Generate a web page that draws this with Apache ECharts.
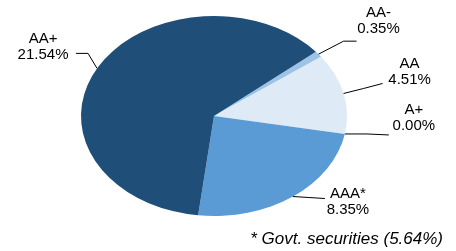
<!DOCTYPE html>
<html>
<head>
<meta charset="utf-8">
<script src="https://cdn.jsdelivr.net/npm/echarts@6/dist/echarts.min.js"></script>
<style>
  html, body { margin: 0; padding: 0; background: #fff; }
  #main { width: 456px; height: 251px; }
</style>
</head>
<body>
<div id="main"></div>
<script>
// rating buckets, clockwise from the top-right
const ratings = ['AA-', 'AA', 'A+', 'AAA*', 'AA+'];
const shares = [0.35, 4.51, 0.00, 8.35, 21.54];
const govtSecurities = 5.64;

const colors = ['#9DC3E6', '#DEEBF7', '#5B9BD5', '#5B9BD5', '#1F4E79'];

// the pie is a circle squashed vertically into an ellipse
const cx = 214, cy = 116, r = 133, squash = 0.752;
const startAngle = 40;

// label line bends / text placement, relative to the slice edge
const lineBend = [[25, -13], [20, -5], [22, 0], [16, 1], [-9, -15]];
const lineEnd = [[38, -13], [39, -10], [44, 1], [32, 2], [-21, -15]];
const textShift = [[22, -20], [27, -12], [25, -17], [23, 3], [-33, -7]];

const total = shares.reduce((a, b) => a + b, 0);

let myChart = echarts.init(document.getElementById('main'));

let option = {
  animation: false,
  title: {
    text: '* Govt. securities (' + govtSecurities.toFixed(2) + '%)',
    right: 13,
    top: 231,
    padding: 0,
    textStyle: {
      fontFamily: 'Liberation Sans',
      fontStyle: 'italic',
      fontWeight: 'normal',
      fontSize: 17,
      color: '#000'
    }
  },
  series: [
    {
      // elliptical slices
      type: 'custom',
      coordinateSystem: 'none',
      silent: true,
      data: shares,
      renderItem: function (params, api) {
        const i = params.dataIndex;
        let before = 0;
        for (let k = 0; k < i; k++) before += shares[k];
        const a0 = (-startAngle + before / total * 360) * Math.PI / 180;
        const a1 = a0 + api.value(0) / total * 2 * Math.PI;
        return {
          type: 'sector',
          shape: { cx: cx, cy: cy, r: r, r0: 0, startAngle: a0, endAngle: a1, clockwise: true },
          scaleY: squash,
          originX: cx,
          originY: cy,
          style: { fill: colors[i] }
        };
      }
    },
    {
      // same pie, invisible, only for its labels
      type: 'pie',
      center: [cx, cy],
      radius: r,
      startAngle: startAngle,
      clockwise: true,
      avoidLabelOverlap: false,
      itemStyle: { color: 'rgba(0,0,0,0)' },
      emphasis: { disabled: true },
      data: ratings.map((n, i) => ({ name: n, value: shares[i] })),
      label: {
        show: true,
        position: 'outside',
        formatter: p => p.name + '\n' + p.value.toFixed(2) + '%',
        fontFamily: 'Liberation Sans',
        fontSize: 15,
        lineHeight: 16,
        color: '#000',
        align: 'center'
      },
      labelLine: {
        show: true,
        length: 10,
        length2: 10,
        lineStyle: { color: '#000', width: 1 }
      },
      labelLayout: function (params) {
        const i = params.dataIndex;
        const p0 = params.labelLinePoints[0];
        const s = [p0[0], cy + (p0[1] - cy) * squash];
        const b = [s[0] + lineBend[i][0], s[1] + lineBend[i][1]];
        const e = [s[0] + lineEnd[i][0], s[1] + lineEnd[i][1]];
        return {
          x: e[0] + textShift[i][0],
          y: e[1] + textShift[i][1],
          align: 'center',
          verticalAlign: 'middle',
          labelLinePoints: [s, b, e]
        };
      }
    }
  ]
};

myChart.setOption(option);
</script>
</body>
</html>
